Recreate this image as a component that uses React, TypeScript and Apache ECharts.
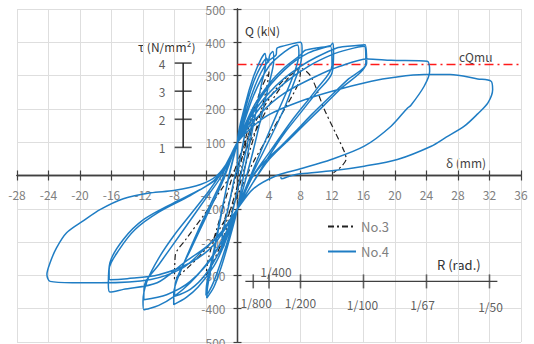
import React, { useEffect, useRef } from 'react';
import * as echarts from 'echarts';

// ---- axes ----
const X_MIN = -28;
const X_MAX = 36;
const X_STEP = 4;
const Y_MIN = -500;
const Y_MAX = 500;
const Y_STEP = 100;

// ---- cQmu level (kN) ----
const CQMU = 333;
const cqmuSpan = [0, 36];

// ---- No.3 (dash-dot) ----
const no3Cycle1 = [[0,0],[1,90],[2,170],[1.6,120],[0.5,20],[0,-30],[-1,-110],[-2,-180],[-1.6,-130],[-0.5,-30],[0,20]];
const no3Cycle2 = [[1,110],[2,190],[3,260],[4,312],[3.7,262],[2.5,150],[1,30],[0,-50],[-1,-130],[-2,-200],[-3,-255],[-4,-300],[-3.7,-250],[-2.5,-150],[-1,-30],[0,40]];
const no3Cycle3 = [[1,100],[2,150],[4,230],[6,290],[8,318],[7.8,280],[6,200],[4,120],[2,40],[0,-60],[-2,-150],[-4,-220],[-6,-270],[-8,-312],[-7.9,-240],[-6.5,-190],[-4,-110],[-2,-40],[0,30]];
const no3Final = [[2,120],[4,210],[6,280],[8,322],[9.3,298],[11,200],[12.5,125],[13.5,75],[13.8,50],[13.3,30],[12.2,8]];

// ---- No.4 (solid blue) ----
const no4Cycle1 = [[0,0],[0.5,70],[1,130],[1.6,180],[2,205],[1.9,165],[1.2,90],[0.5,10],[0,-45],[-0.6,-105],[-1.2,-160],[-1.8,-200],[-2,-215],[-1.9,-175],[-1.2,-100],[-0.5,-20],[0,40]];
const no4Cycle2 = [[0,100],[1,215],[2,295],[3,350],[3.5,366],[3.6,340],[3,270],[2,150],[1,30],[0,-100],[-1,-190],[-2,-270],[-3,-335],[-3.9,-368],[-3.8,-335],[-3,-235],[-2,-110],[-1,10],[0,100]];
const no4Cycle3 = [[1,200],[2,278],[3,330],[3.7,352],[3.9,340],[4.1,362],[4.5,372],[4.6,345],[4,275],[3,175],[2,75],[1,-15],[0,-100],[-1,-178],[-2,-252],[-3,-318],[-3.7,-352],[-4,-360],[-3.9,-325],[-3,-225],[-2,-105],[-1,5],[0,100]];
const no4Cycle4 = [[1,185],[2,255],[3,310],[4,345],[4.9,362],[5,382],[6,390],[7,396],[8,400],[8.2,382],[8,335],[7,268],[6,205],[4,105],[2,10],[1,-40],[0,-100],[-1,-165],[-2,-225],[-3,-272],[-5,-335],[-6.5,-366],[-8.1,-388],[-8.1,-355],[-7,-275],[-5,-165],[-3,-65],[-2,-15],[-1,40],[0,100]];
const no4Cycle5 = [[2,238],[4,328],[6,372],[7.6,392],[7.8,365],[7,295],[5,185],[3,75],[1,-40],[0,-100],[-2,-215],[-4,-295],[-6,-342],[-8,-363],[-7.8,-315],[-6,-225],[-4,-125],[-2,-25],[0,100]];
const no4Cycle6 = [[2,205],[4,275],[6,325],[8,362],[8.6,376],[10,383],[11.8,390],[12.1,398],[12.2,370],[12,308],[10,248],[8,188],[6,128],[4,58],[2,-20],[0,-100],[-2,-198],[-4,-268],[-6,-322],[-8,-362],[-10,-390],[-11.9,-403],[-12,-378],[-11.5,-318],[-10,-248],[-8,-178],[-6,-118],[-4,-58],[-2,10],[0,100]];
const no4Cycle7 = [[3,235],[6,318],[9,368],[11.8,388],[12,330],[10,258],[7,168],[4,68],[2,0],[0,-100],[-3,-238],[-6,-318],[-9,-358],[-11.9,-373],[-11.8,-328],[-10,-268],[-7,-168],[-4,-68],[-2,0],[0,100]];
const no4Cycle8 = [[2,188],[4,248],[6,293],[8,328],[10,355],[12.6,383],[14,388],[16.2,393],[16.4,338],[14,288],[11.8,238],[9.5,185],[7.6,138],[5.5,88],[3.3,38],[1.5,-20],[0,-100],[-2,-172],[-4,-215],[-6.8,-262],[-10.2,-322],[-14.5,-342],[-16.2,-350],[-16.4,-328],[-16.2,-262],[-14.5,-192],[-11.9,-132],[-8.1,-82],[-4.7,-42],[-2.6,-10],[-1.5,30],[0,100]];
const no4Cycle9 = [[3,208],[6,278],[9,328],[12,363],[14,378],[16.1,388],[16.3,338],[13,258],[10,188],[7,118],[4,48],[2,-20],[0,-100],[-3,-208],[-6,-262],[-10,-298],[-14,-310],[-16.2,-313],[-16.3,-282],[-15,-222],[-13,-162],[-10,-110],[-6,-60],[-3,-15],[-1.5,30],[0,100]];
const no4Cycle10 = [[3,188],[6,248],[10,298],[13,328],[16.5,350],[19.5,346],[24.1,343],[24.4,313],[23.7,268],[22,210],[21.6,203],[19.5,148],[16.1,88],[11.9,48],[8,20],[5,0],[2,-40],[0,-100],[-2,-168],[-4.7,-232],[-7,-278],[-11,-312],[-17.4,-322],[-21,-322],[-23.8,-318],[-24.2,-297],[-23.8,-262],[-23,-218],[-21.7,-172],[-19.5,-135],[-17.4,-102],[-14.5,-70],[-11,-52],[-8.1,-45],[-4.7,-27],[-2.6,0],[-1,50],[0,100]];
const no4Cycle11 = [[2,148],[4,183],[8,223],[12,253],[17,283],[20,295],[23.7,303],[27,303],[30.5,290],[32.2,283],[32.4,258],[31.8,218],[30.5,185],[28.8,148],[26.5,115],[24.6,88],[20.3,48],[16.1,28],[12,14],[8,5],[6.5,-3],[5.6,-10],[5.5,-4]];

// ---- secondary R axis (drift angle) ----
const R_AXIS_LEVEL = -318;
const rAxisSpan = [1, 33];
const rTickDelta = [2, 4, 8, 16, 24, 32];
const rTickLabels = ['1/800', '1/400', '1/200', '1/100', '1/67', '1/50'];

// ---- secondary tau axis ----
const TAU_AXIS_X = -6.9;
const tauValues = [1, 2, 3, 4];
const tauLabels = ['1', '2', '3', '4'];
const KN_PER_TAU = 84.4;

// style-only helpers
const rLabelOffsets = [[3, 21], [7, -10], [0, 21], [-1, 23], [-4, 23], [1, 25]];

const FONT = '"Noto Sans CJK JP", "Noto Sans", sans-serif';

// layout (pixels)
const W = 534;
const H = 344;
const G_LEFT = 17;
const G_RIGHT = 13;
const G_TOP = 9;
const G_BOTTOM = 2;

export default function App() {
  const ref = useRef<HTMLDivElement>(null);
  useEffect(() => {
    const chart = echarts.init(ref.current!, null, { renderer: 'svg' });
    const no3 = [...no3Cycle1, ...no3Cycle2, ...no3Cycle3, ...no3Final];
    const no4 = [
      ...no4Cycle1, ...no4Cycle2, ...no4Cycle3, ...no4Cycle4, ...no4Cycle5, ...no4Cycle6,
      ...no4Cycle7, ...no4Cycle8, ...no4Cycle9, ...no4Cycle10, ...no4Cycle11,
    ];
    const axisColor = '#404040';
    const gw = W - G_LEFT - G_RIGHT;
    const gh = H - G_TOP - G_BOTTOM;
    // offsets that bring the axes onto the zero lines
    const xZeroPx = G_LEFT + ((0 - X_MIN) / (X_MAX - X_MIN)) * gw;
    const yZeroPx = G_TOP + ((Y_MAX - 0) / (Y_MAX - Y_MIN)) * gh;
    const xAxisOffset = -(G_TOP + gh - yZeroPx);
    const yAxisOffset = -(xZeroPx - G_LEFT);

    const baseX = { type: 'value', min: X_MIN, max: X_MAX, interval: X_STEP, position: 'bottom', offset: xAxisOffset };
    const baseY = { type: 'value', min: Y_MIN, max: Y_MAX, interval: Y_STEP, position: 'left', offset: yAxisOffset };
    const option: any = {
      animation: false,
      backgroundColor: '#fff',
      textStyle: { fontFamily: FONT },
      grid: { left: G_LEFT, right: G_RIGHT, top: G_TOP, bottom: G_BOTTOM, containLabel: false, outerBoundsMode: 'none' },
      xAxis: [
        {
          ...baseX,
          axisLine: { onZero: false, lineStyle: { color: axisColor, width: 1.3 } },
          axisTick: { inside: true, length: 5, lineStyle: { color: axisColor, width: 1.2 } },
          axisLabel: { color: '#808080', fontSize: 12, margin: 13, fontFamily: FONT },
          splitLine: { show: true, lineStyle: { color: '#dedede', width: 1 } },
        },
        {
          ...baseX,
          axisLine: { onZero: false, lineStyle: { color: axisColor, width: 1.3 } },
          axisTick: { inside: false, length: 5, lineStyle: { color: axisColor, width: 1.2 } },
          axisLabel: { show: false },
          splitLine: { show: false },
        },
      ],
      yAxis: [
        {
          ...baseY,
          axisLine: { onZero: false, lineStyle: { color: axisColor, width: 1.3 } },
          axisTick: { inside: true, length: 4, lineStyle: { color: axisColor, width: 1.2 } },
          axisLabel: { color: '#808080', fontSize: 12, margin: 12, fontFamily: FONT },
          splitLine: { show: true, lineStyle: { color: '#dedede', width: 1 } },
        },
        {
          ...baseY,
          axisLine: { onZero: false, lineStyle: { color: axisColor, width: 1.3 } },
          axisTick: { inside: false, length: 4, lineStyle: { color: axisColor, width: 1.2 } },
          axisLabel: { show: false },
          splitLine: { show: false },
        },
      ],
      legend: {
        data: ['No.3', 'No.4'],
        orient: 'vertical',
        left: 322,
        top: 215,
        itemWidth: 28,
        itemHeight: 14,
        itemGap: 12,
        itemStyle: { opacity: 0 },
        textStyle: { color: '#7f7f7f', fontSize: 13, fontFamily: FONT },
      },
      series: [
        {
          type: 'line', name: 'cQmu', silent: true, symbol: 'none',
          data: cqmuSpan.map((x) => [x, CQMU]),
          lineStyle: { color: '#ff1a1a', width: 1.5, type: [9, 4, 2, 4] },
          z: 1,
        },
        {
          type: 'line', name: 'No.3', symbol: 'none', smooth: 0.3,
          data: no3,
          itemStyle: { color: '#222' },
          lineStyle: { color: '#222', width: 1.2, type: [6, 3, 2, 3] },
          z: 3,
        },
        {
          type: 'line', name: 'No.4', symbol: 'none', smooth: 0.3,
          data: no4,
          itemStyle: { color: '#1f7dc4' },
          lineStyle: { color: '#1f7dc4', width: 1.5 },
          z: 4,
        },
        {
          type: 'line', name: 'Raxis', silent: true, symbol: 'none',
          data: rAxisSpan.map((x) => [x, R_AXIS_LEVEL]),
          lineStyle: { color: axisColor, width: 1.3 },
          z: 5,
        },
        {
          type: 'scatter', name: 'Rticks', silent: true, symbol: 'rect', symbolSize: [1.6, 14],
          itemStyle: { color: axisColor },
          data: rTickDelta.map((d, i) => ({
            value: [d, R_AXIS_LEVEL],
            label: {
              show: true, position: 'inside', offset: rLabelOffsets[i],
              formatter: rTickLabels[i], color: '#333', fontSize: 12, fontFamily: FONT,
            },
          })),
          z: 5,
        },
        {
          type: 'line', name: 'tauAxis', silent: true, symbol: 'none',
          data: [[TAU_AXIS_X, tauValues[0] * KN_PER_TAU], [TAU_AXIS_X, tauValues[tauValues.length - 1] * KN_PER_TAU]],
          lineStyle: { color: '#222', width: 1.5 },
          z: 5,
        },
        {
          type: 'scatter', name: 'tauTicks', silent: true, symbol: 'rect', symbolSize: [17, 1.6],
          itemStyle: { color: '#222' },
          data: tauValues.map((t, i) => ({
            value: [TAU_AXIS_X, t * KN_PER_TAU],
            label: {
              show: true, position: 'inside', offset: [-21, 0],
              formatter: tauLabels[i], color: '#333', fontSize: 12, fontFamily: FONT,
            },
          })),
          z: 5,
        },
      ],
      graphic: [
        { type: 'text', x: 245, y: 30, style: { text: 'Q (kN)', fill: '#333', fontSize: 12, fontFamily: FONT, verticalAlign: 'middle' } },
        { type: 'text', x: 138, y: 46, style: { text: 'τ (N/mm²)', fill: '#333', fontSize: 12, fontFamily: FONT, verticalAlign: 'middle' } },
        { type: 'text', x: 459, y: 56, style: { text: 'cQmu', fill: '#444', fontSize: 12, fontFamily: FONT, verticalAlign: 'middle' } },
        { type: 'text', x: 446, y: 162, style: { text: 'δ (mm)', fill: '#444', fontSize: 12, fontFamily: FONT, verticalAlign: 'middle' } },
        { type: 'text', x: 437, y: 264, style: { text: 'R (rad.)', fill: '#333', fontSize: 13, fontFamily: FONT, verticalAlign: 'middle' } },
      ],
    };
    chart.setOption(option);
    return () => chart.dispose();
  }, []);
  return (
    <div
      ref={ref}
      style={{ position: 'fixed', left: 0, top: 0, width: W, height: H, background: '#fff' }}
    />
  );
}
